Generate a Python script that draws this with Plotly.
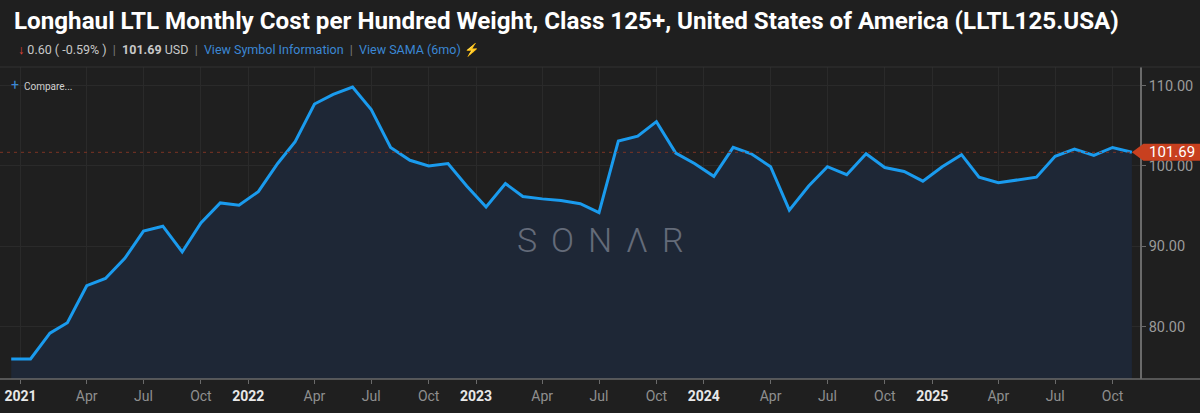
import pandas as pd
import plotly.graph_objects as go

# monthly cost per hundred weight, Dec 2020 .. Nov 2025
start_month = "2020-12-01"
values = [
    76.0, 76.0, 79.2, 80.5, 85.1, 86.0, 88.5, 91.9, 92.5, 89.3, 92.9, 95.4, 95.1,
    96.8, 100.3, 103.0, 107.7, 108.9, 109.8, 107.0, 102.3, 100.7, 100.0, 100.3, 97.5,
    94.9, 97.8, 96.2, 95.9, 95.7, 95.3, 94.2, 103.1, 103.7, 105.5, 101.6, 100.3,
    98.7, 102.3, 101.5, 99.9, 94.5, 97.5, 99.9, 98.9, 101.5, 99.8, 99.3, 98.1,
    99.9, 101.4, 98.6, 97.9, 98.2, 98.6, 101.2, 102.1, 101.3, 102.29, 101.69,
]
dates = pd.date_range(start_month, periods=len(values), freq="MS")

tick_dates = [
    "2020-12-16", "2021-04-01", "2021-07-01", "2021-10-01",
    "2021-12-16", "2022-04-01", "2022-07-01", "2022-10-01",
    "2022-12-16", "2023-04-01", "2023-07-01", "2023-10-01",
    "2023-12-16", "2024-04-01", "2024-07-01", "2024-10-01",
    "2024-12-16", "2025-04-01", "2025-07-01", "2025-10-01",
]
tick_labels = [
    "2021", "Apr", "Jul", "Oct", "2022", "Apr", "Jul", "Oct",
    "2023", "Apr", "Jul", "Oct", "2024", "Apr", "Jul", "Oct",
    "2025", "Apr", "Jul", "Oct",
]
y_ticks = [80, 90, 100, 110]

x_range = [pd.Timestamp("2020-11-13"), pd.Timestamp("2025-11-14")]
y_range = [73.5, 112.3]

BG = "#1f1f1f"
GRID = "#2a2a2a"
AXIS = "#6a6a6a"
LINE = "#1a9bee"
TAG = "#c8401f"


def fmt_tick(lbl):
    if lbl.isdigit():
        return f"<span style='color:#e8e8e8'><b>{lbl}</b></span>"
    return lbl


last_val = values[-1]
prev_val = values[-2]
change = last_val - prev_val
pct = change / prev_val * 100

fig = go.Figure()
fig.add_trace(go.Scatter(
    x=dates, y=values, mode="lines",
    line=dict(color=LINE, width=3),
    fill="tozeroy", fillcolor="#1e2736",
    hoverinfo="skip",
))

# dashed last-value line
fig.add_shape(type="line", xref="x", yref="y",
              x0=x_range[0], x1=dates[-1], y0=last_val, y1=last_val,
              line=dict(color="#7c3424", width=1, dash="3px,4px"))

# price tag on the right axis
span = (x_range[1] - x_range[0]).total_seconds()
tip = (dates[-1] - x_range[0]).total_seconds() / span
right = 1200 / 1140
fig.add_shape(type="path", xref="paper", yref="y", ysizemode="pixel", yanchor=last_val,
              path=f"M{tip},0 L1.003,8.5 L{right},8.5 L{right},-8.5 L1.003,-8.5 Z",
              fillcolor=TAG, line=dict(width=0), layer="above")
fig.add_annotation(xref="paper", yref="y", x=right, y=last_val, xanchor="right",
                   xshift=-3, text=f"{last_val:.2f}", showarrow=False,
                   font=dict(family="Roboto", size=15, color="white"))

# header separator and full-width bottom line
fig.add_shape(type="line", xref="paper", yref="paper", x0=0, x1=right, y0=1, y1=1,
              line=dict(color="#333333", width=1))
fig.add_shape(type="line", xref="paper", yref="paper", x0=0, x1=right, y0=0, y1=0,
              line=dict(color=AXIS, width=1.5))

fig.add_annotation(
    xref="paper", yref="paper", x=0.0105, y=1.147, xanchor="left", yanchor="middle",
    text="<b>Longhaul LTL Monthly Cost per Hundred Weight, Class 125+, United States of America (LLTL125.USA)</b>",
    showarrow=False, font=dict(family="Roboto", size=24.2, color="white"))

sep = "<span style='color:#777777'>  |  </span>"
sub = (f"<span style='color:#e0443a'><b>↓</b></span> {abs(change):.2f} ( {pct:.2f}% )" + sep
       + f"<b>{last_val:.2f}</b> USD" + sep
       + "<span style='color:#3b87d4'>View Symbol Information</span>" + sep
       + "<span style='color:#3b87d4'>View SAMA (6mo)</span> "
       + "<span style='color:#e8c619'>⚡</span>")
fig.add_annotation(xref="paper", yref="paper", x=0.014, y=1.054, xanchor="left",
                   yanchor="middle", text=sub, showarrow=False,
                   font=dict(family="Roboto", size=12.5, color="#c8c8c8"))

fig.add_annotation(xref="paper", yref="paper", x=0.008, y=0.942, xanchor="left",
                   yanchor="middle", showarrow=False,
                   text="<span style='color:#3b87d4;font-size:14px'>+</span>  Compare...",
                   font=dict(family="Roboto", size=10, color="#d0d0d0"))

fig.add_annotation(xref="paper", yref="paper", x=0.527, y=0.446, showarrow=False,
                   text="S\u2009\u2009O\u2009\u2009N\u2009\u2009Λ\u2009\u2009R",
                   font=dict(family="Roboto", size=34, color="#646b79", weight=300))

fig.update_layout(
    width=1200, height=413,
    margin=dict(l=0, r=60, t=67, b=34),
    paper_bgcolor=BG, plot_bgcolor=BG,
    showlegend=False,
    font=dict(family="Roboto", color="#9a9a9a"),
    xaxis=dict(
        type="date", range=x_range,
        tickmode="array", tickvals=tick_dates,
        ticktext=[fmt_tick(t) for t in tick_labels],
        tickfont=dict(size=14, color="#8f8f8f"),
        ticks="outside", ticklen=4, tickcolor=AXIS,
        showgrid=True, gridcolor=GRID, gridwidth=1,
        showline=False, zeroline=False,
    ),
    yaxis=dict(
        side="right", range=y_range,
        tickmode="array", tickvals=y_ticks, tickformat=".2f",
        tickfont=dict(size=14.5, color="#9a9a9a"),
        ticks="outside", ticklen=4, tickcolor=AXIS,
        showgrid=True, gridcolor=GRID, gridwidth=1,
        showline=True, linecolor=AXIS, linewidth=1.5,
        zeroline=False,
    ),
)

# drop the default page margin so the figure fills the window exactly
fig.write_html("out.html", config={"displayModeBar": False},
               post_script="document.body.style.margin='0';")
